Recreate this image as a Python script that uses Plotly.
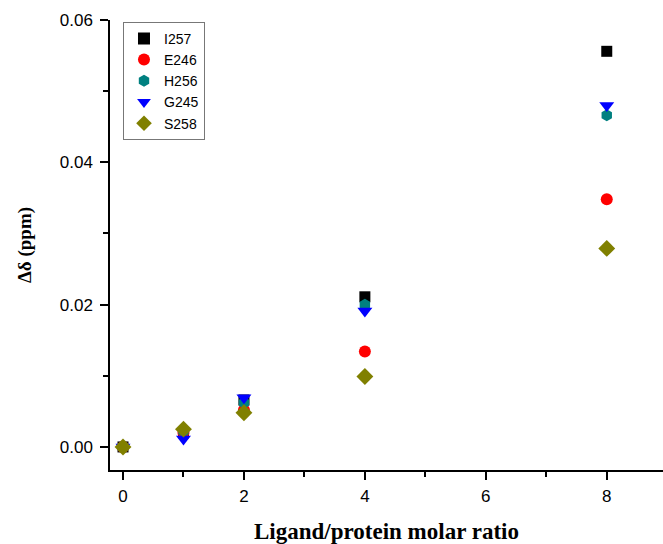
import plotly.graph_objects as go

ratio = [0, 1, 2, 4, 8]
series_names = ["I257", "E246", "H256", "G245", "S258"]
I257 = [0.0, 0.0020, 0.0066, 0.0211, 0.0556]
E246 = [0.0, 0.0020, 0.0052, 0.0134, 0.0348]
H256 = [0.0, 0.0022, 0.0062, 0.0200, 0.0466]
G245 = [0.0, 0.0011, 0.0069, 0.0191, 0.0480]
S258 = [0.0, 0.0025, 0.0048, 0.0099, 0.0279]

x_ticks = [0, 2, 4, 6, 8]
y_ticks = [0.00, 0.02, 0.04, 0.06]
y_tick_labels = ["0.00", "0.02", "0.04", "0.06"]

styles = [
    ("square", "#000000", 11),
    ("circle", "#ff0000", 12),
    ("hexagon", "#008080", 12),
    ("triangle-down", "#0000ff", 13),
    ("diamond", "#808000", 13),
]

fig = go.Figure()
for name, vals, (sym, col, sz) in zip(series_names, [I257, E246, H256, G245, S258], styles):
    fig.add_trace(go.Scatter(
        x=ratio, y=vals, mode="markers", name=name,
        marker=dict(symbol=sym, color=col, size=sz, line=dict(width=0)),
    ))

axis_common = dict(
    showline=True, linecolor="black", linewidth=1.5,
    ticks="outside", ticklen=8, tickwidth=1.5, tickcolor="black",
    showgrid=False, zeroline=False, mirror=False, automargin=False,
    tickfont=dict(family="Liberation Sans, Arial", size=17, color="black"),
)

fig.update_xaxes(
    range=[-0.215, 8.93], tickvals=x_ticks, ticklabelstandoff=2,
    minor=dict(ticks="outside", ticklen=5, tickwidth=1.5, tickcolor="black", dtick=1, tick0=1),
    title=dict(text="<b>Ligand/protein molar ratio</b>",
               font=dict(family="Liberation Serif, Times New Roman", size=23, color="black"),
               standoff=18),
    **axis_common,
)
fig.update_yaxes(
    range=[-0.00324, 0.06], tickvals=y_ticks, ticktext=y_tick_labels, ticklabelstandoff=4,
    minor=dict(ticks="outside", ticklen=5, tickwidth=1.5, tickcolor="black", dtick=0.01, tick0=0.01),
    title=dict(text="<b>Δδ (ppm)</b>",
               font=dict(family="Liberation Serif, Times New Roman", size=19, color="black"),
               standoff=23),
    **axis_common,
)

fig.update_layout(
    width=663, height=544,
    margin=dict(l=110, r=0, t=20, b=74),
    plot_bgcolor="white", paper_bgcolor="white",
    legend=dict(
        x=0.0235, y=0.996, xanchor="left", yanchor="top",
        bordercolor="#777777", borderwidth=1, bgcolor="white",
        font=dict(family="Liberation Sans, Arial", size=14, color="black"),
        itemsizing="constant", tracegroupgap=0,
    ),
    showlegend=True,
)

fig.write_html("out.html", config={"displayModeBar": False},
               post_script="document.body.style.margin='0';")
